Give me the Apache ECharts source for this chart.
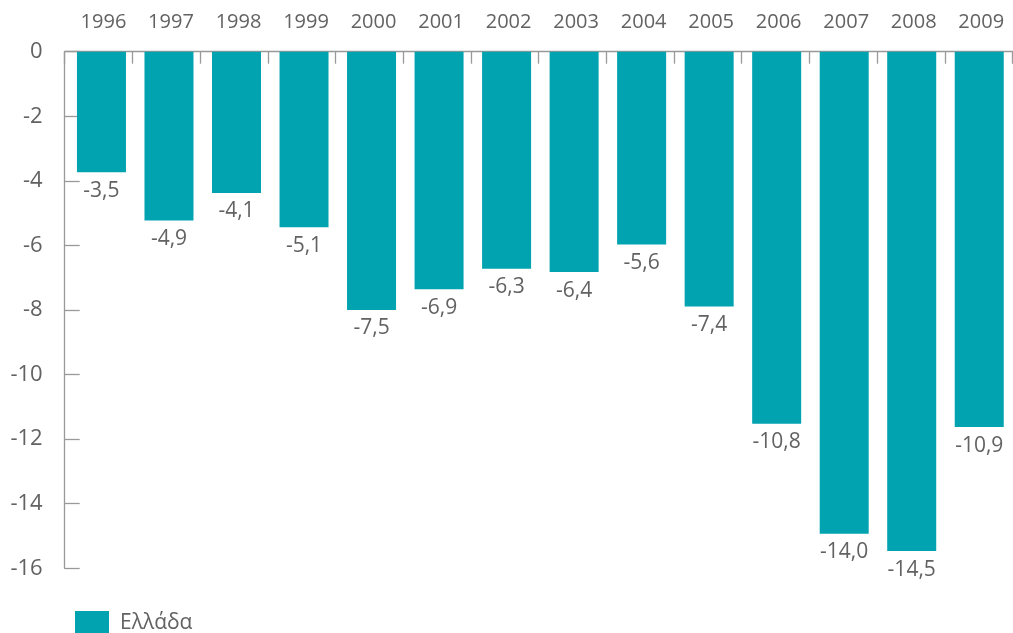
<!DOCTYPE html>
<html>
<head>
<meta charset="utf-8">
<script src="https://cdn.jsdelivr.net/npm/echarts@6/dist/echarts.min.js"></script>
<style>html,body{margin:0;padding:0;background:#fff}#c{width:1013px;height:633px}</style>
</head>
<body>
<div id="c"></div>
<script>
var years = ['1996','1997','1998','1999','2000','2001','2002','2003','2004','2005','2006','2007','2008','2009'];
var values = [-3.5,-4.9,-4.1,-5.1,-7.5,-6.9,-6.3,-6.4,-5.6,-7.4,-10.8,-14.0,-14.5,-10.9];
var seriesName = 'Ελλάδα';
var axisMin = -16, axisMax = 0, axisStep = 2;

var FONT = 'Open Sans';
var TEXT = '#626262';
var BAR = '#00A3AF';

var chart = echarts.init(document.getElementById('c'), null, {renderer: 'canvas'});
chart.setOption({
  animation: false,
  textStyle: {fontFamily: FONT},
  grid: [
    {left: 64.7, right: 0.5, top: 51.7, bottom: 64.7, containLabel: false},
    {left: 67.7, right: -2.5, top: 51.7, bottom: 64.7, containLabel: false}
  ],
  legend: {
    left: 75, top: 611, padding: 0, itemWidth: 34, itemHeight: 24, icon: 'rect',
    data: [seriesName],
    textStyle: {fontFamily: FONT, fontSize: 21, color: TEXT, padding: [0,0,0,6]}
  },
  xAxis: [
    {type: 'category', gridIndex: 0, position: 'top', data: years,
      axisLine: {show: true, lineStyle: {color: '#999999', width: 1.3}},
      axisTick: {show: true, inside: true, length: 12, alignWithLabel: false, lineStyle: {color: '#999999', width: 1.3}},
      axisLabel: {show: false}, splitLine: {show: false}},
    {type: 'category', gridIndex: 1, position: 'top', data: years,
      axisLine: {show: false}, axisTick: {show: false},
      axisLabel: {show: true, margin: 19, fontFamily: FONT, fontSize: 20, color: TEXT, padding: [0,0,0,4]},
      splitLine: {show: false}}
  ],
  yAxis: [
    {type: 'value', gridIndex: 0, min: axisMin, max: axisMax, interval: axisStep,
      axisLine: {show: true, lineStyle: {color: '#999999', width: 1.3}},
      axisTick: {show: true, inside: true, length: 15, lineStyle: {color: '#999999', width: 1.3}},
      axisLabel: {margin: 22, fontFamily: FONT, fontSize: 22, color: TEXT},
      splitLine: {show: false}},
    {type: 'value', gridIndex: 1, min: -15, max: 0, show: false, splitLine: {show: false}}
  ],
  series: [{
    name: seriesName, type: 'bar', xAxisIndex: 1, yAxisIndex: 1,
    data: values, barWidth: 49,
    itemStyle: {color: BAR},
    label: {show: true, position: 'bottom', distance: 8, fontFamily: FONT, fontSize: 21, color: TEXT,
      formatter: function (p) { return p.value.toFixed(1).replace('.', ','); }}
  }]
});
</script>
</body>
</html>
